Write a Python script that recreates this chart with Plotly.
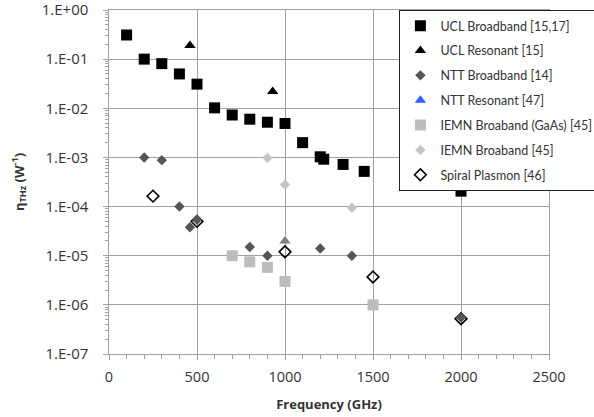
import plotly.graph_objects as go

# ---- data ----
ucl_bb_x = [100, 200, 300, 400, 500, 600, 700, 800, 900, 1000, 1100, 1200, 1220, 1330, 1450, 2000]
ucl_bb_y = [0.31, 0.10, 0.081, 0.050, 0.031, 0.0102, 0.0073, 0.0060, 0.0052, 0.0049, 0.0020, 0.00103, 0.00092, 0.00072, 0.00052, 0.000206]

ucl_res_x = [460, 930]
ucl_res_y = [0.19, 0.022]

ntt_bb_x = [200, 300, 400, 460, 500, 800, 900, 1200, 1380, 2000]
ntt_bb_y = [0.0010, 0.00088, 0.00010, 3.8e-5, 5.4e-5, 1.5e-5, 1.0e-5, 1.4e-5, 1.0e-5, 5.5e-7]

ntt_res_x = [1000]
ntt_res_y = [2.0e-5]

iemn_gaas_x = [700, 800, 900, 1000, 1500]
iemn_gaas_y = [1.0e-5, 7.5e-6, 5.8e-6, 3.0e-6, 1.0e-6]

iemn_bb_x = [900, 1000, 1380]
iemn_bb_y = [0.00098, 0.00028, 9.5e-5]

spiral_x = [250, 500, 1000, 1500, 2000]
spiral_y = [0.000163, 5.0e-5, 1.2e-5, 3.7e-6, 5.2e-7]

x_ticks = [0, 500, 1000, 1500, 2000, 2500]
y_tick_vals = [1e0, 1e-1, 1e-2, 1e-3, 1e-4, 1e-5, 1e-6, 1e-7]
y_tick_text = ["1.E+00", "1.E-01", "1.E-02", "1.E-03", "1.E-04", "1.E-05", "1.E-06", "1.E-07"]

FONT = "Open Sans"
LFONT = "Lato"
fig = go.Figure()

def add(x, y, name, symbol, color, size, line_color=None, line_width=0, group=None, showlegend=True):
    fig.add_trace(go.Scatter(
        x=x, y=y, mode="markers", name=name,
        legendgroup=group or name, showlegend=showlegend,
        marker=dict(symbol=symbol, color=color, size=size,
                    line=dict(color=line_color or color, width=line_width)),
    ))

add(ucl_bb_x, ucl_bb_y, "UCL Broadband [15,17]", "square", "#000000", 11)
add(ucl_res_x, ucl_res_y, "UCL Resonant [15]", "triangle-up", "#000000", 10)
add(iemn_gaas_x, iemn_gaas_y, "IEMN Broaband (GaAs) [45]", "square", "#bcbcbc", 11, showlegend=False, group="g4")
add(iemn_bb_x, iemn_bb_y, "IEMN Broaband [45]", "diamond", "#c4c4c4", 8, showlegend=False, group="g5")
add(spiral_x, spiral_y, "Spiral Plasmon [46]", "diamond-open", "#000000", 9, line_width=1.6, showlegend=False, group="g6")
add(ntt_bb_x, ntt_bb_y, "NTT Broadband [14]", "diamond", "#555555", 8)
add(ntt_res_x, ntt_res_y, "NTT Resonant [47]", "triangle-up", "#7f7f86", 10, showlegend=False, group="g3")
# legend entries in reference order
add([None], [None], "NTT Resonant [47]", "triangle-up", "#2f5bff", 10, group="g3")
add([None], [None], "IEMN Broaband (GaAs) [45]", "square", "#bcbcbc", 11, group="g4")
add([None], [None], "IEMN Broaband [45]", "diamond", "#c4c4c4", 8, group="g5")
add([None], [None], "Spiral Plasmon [46]", "diamond-open", "#000000", 9, line_width=1.6, group="g6")

minor_y = [k * 10.0 ** e for e in range(-7, 0) for k in range(2, 10)]
pad = "\u00a0\u00a0\u00a0"

fig.update_layout(
    width=594, height=417,
    margin=dict(l=109, r=45, t=10, b=63, autoexpand=False),
    paper_bgcolor="white", plot_bgcolor="white",
    font=dict(family=FONT, size=13, color="#333333"),
    showlegend=True,
    legend=dict(
        x=0.66, y=1.0, xanchor="left", yanchor="top",
        bgcolor="white", bordercolor="#222222", borderwidth=1,
        font=dict(family=LFONT, size=12.5, color="#333333"),
        traceorder="grouped", tracegroupgap=5.6,
        itemwidth=30,
    ),
    xaxis=dict(
        range=[0, 2500], tickvals=x_ticks,
        showgrid=True, gridcolor="#a0a0a0", gridwidth=1,
        showline=True, linecolor="#a0a0a0", linewidth=1, mirror=True,
        ticks="outside", ticklen=5, tickcolor="#a0a0a0",
        minor=dict(dtick=100, ticks="outside", ticklen=4, tickcolor="#a0a0a0", showgrid=False),
        zeroline=False, ticklabelstandoff=5,
        tickfont=dict(family=FONT, size=14.5, color="#333333"),
        title=dict(text="<b>Frequency (GHz)</b>", font=dict(family=FONT, size=13, color="#333333"), standoff=14),
    ),
    yaxis=dict(
        type="log", range=[-7, 0],
        tickvals=y_tick_vals, ticktext=[t + pad for t in y_tick_text],
        showgrid=True, gridcolor="#a0a0a0", gridwidth=1,
        showline=True, linecolor="#a0a0a0", linewidth=1, mirror=True,
        ticks="outside", ticklen=5, tickcolor="#a0a0a0",
        minor=dict(tickvals=minor_y, ticks="outside", ticklen=3, tickcolor="#a0a0a0", showgrid=False),
        zeroline=False, ticklabeloverflow="allow",
        tickfont=dict(family=FONT, size=15, color="#333333"),
        title=dict(text="<b>η<sub>THz</sub> (W<sup>-1</sup>)</b>", font=dict(family=FONT, size=13, color="#333333"), standoff=14),
    ),
)

fig.write_html("out.html", post_script="document.body.style.margin='0';",
               config={"displayModeBar": False})
